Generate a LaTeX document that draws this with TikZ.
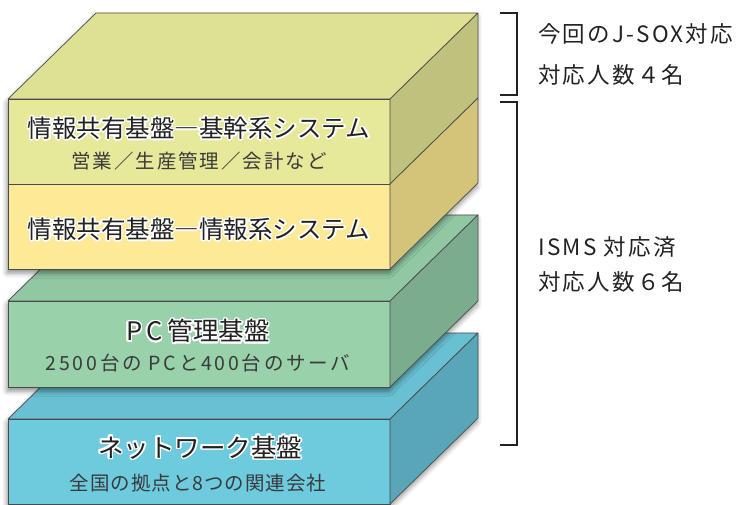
\documentclass[tikz,border=0pt]{standalone}
\usepackage{fontspec}
\setmainfont{Noto Sans CJK JP}
\newfontfamily\subfont[LetterSpace=10]{Noto Sans CJK JP}
\newfontfamily\subfontb[LetterSpace=5]{Noto Sans CJK JP}
\newfontfamily\subfontc[LetterSpace=14]{Noto Sans CJK JP}
\newfontfamily\sidefont[LetterSpace=10]{Noto Sans CJK JP}
\usepackage{contour}
\contourlength{1.5pt}
\usetikzlibrary{shadows.blur}
\definecolor{ytop}{HTML}{DEE093}
\definecolor{yfront}{HTML}{E6E999}
\definecolor{yright}{HTML}{BEC27D}
\definecolor{lfront}{HTML}{FDE996}
\definecolor{lright}{HTML}{D4C47A}
\definecolor{gtop}{HTML}{91C8A3}
\definecolor{gfront}{HTML}{99D2AA}
\definecolor{gright}{HTML}{7CAC8E}
\definecolor{btop}{HTML}{68C0D2}
\definecolor{bfront}{HTML}{6ECBDE}
\definecolor{bright}{HTML}{58A6B8}
\definecolor{edge}{HTML}{4A4A4A}
\definecolor{ink}{HTML}{222222}
\definecolor{subink}{HTML}{3A3A3A}
\tikzset{
  face/.style={draw=edge, line width=0.7pt, line join=round},
  silhouette/.style={fill=white, blur shadow={shadow xshift=-1pt, shadow yshift=-4pt, shadow blur radius=5pt, shadow opacity=45}},
  title/.style={text=ink, inner sep=0pt, font=\fontsize{24.5}{26}\selectfont},
  subtitle/.style={text=subink, inner sep=0pt, font=\subfont\fontsize{19.5}{22}\selectfont},
  side/.style={text=ink, inner sep=0pt, anchor=west, font=\sidefont\fontsize{22.5}{24}\selectfont},
  bracket/.style={draw=ink, line width=1.3pt}
}
\begin{document}
\begin{tikzpicture}[x=1pt, y=-1pt]
\useasboundingbox (0,0) rectangle (747,505);
% ---- blue block
\fill[silhouette] (8,419) -- (96,333) -- (478,333) -- (478,418) -- (390,504) -- (8,504) -- cycle;
\path[face, fill=btop] (8,419) -- (96,333) -- (478,333) -- (390,419) -- cycle;
\path[face, fill=bfront] (8,419) rectangle (390,504);
\path[face, fill=bright] (390,419) -- (478,333) -- (478,418) -- (390,504) -- cycle;
% ---- green block
\fill[silhouette] (8,301) -- (96,215) -- (478,215) -- (478,301) -- (390,387) -- (8,387) -- cycle;
\path[face, fill=gtop] (8,301) -- (96,215) -- (478,215) -- (390,301) -- cycle;
\path[face, fill=gfront] (8,301) rectangle (390,387);
\path[face, fill=gright] (390,301) -- (478,215) -- (478,301) -- (390,387) -- cycle;
% ---- yellow block (two layers)
\fill[silhouette] (8,99) -- (96,13) -- (478,13) -- (478,183) -- (390,269) -- (8,269) -- cycle;
\path[face, fill=ytop] (8,99) -- (96,13) -- (478,13) -- (390,99) -- cycle;
\path[face, fill=yfront] (8,99) rectangle (390,184);
\path[face, fill=yright] (390,99) -- (478,13) -- (478,98) -- (390,184) -- cycle;
\path[face, fill=lfront] (8,184) rectangle (390,269);
\path[face, fill=lright] (390,184) -- (478,98) -- (478,183) -- (390,269) -- cycle;
% ---- texts
\node[title] (t1) at (199,129) {\contour{white}{情報共有基盤―基幹系システム}};
\node[subtitle] (s1) at (199,161) {営業／生産管理／会計など};
\node[title] (t2) at (199,230) {\contour{white}{情報共有基盤―情報系システム}};
\node[title, font=\fontsize{25.5}{27}\selectfont] (t3) at (198,332) {\contour{white}{P\kern4pt C\kern5pt 管理基盤}};
\node[subtitle, font=\subfontc\fontsize{19.5}{22}\selectfont] (s3) at (198,363) {2500台の PCと400台のサーバ};
\node[title, font=\fontsize{25.5}{27}\selectfont] (t4) at (200,448) {\contour{white}{ネットワーク基盤}};
\node[subtitle, font=\subfontb\fontsize{19.5}{22}\selectfont] (s4) at (198,483) {全国の拠点と8つの関連会社};
% ---- brackets
\coordinate (b1a) at (500,13);
\coordinate (b1b) at (500,95);
\coordinate (b2a) at (500,102);
\coordinate (b2b) at (500,445);
\draw[bracket] (b1a) -- (517,13) -- (517,95) -- (b1b);
\draw[bracket] (b2a) -- (517,102) -- (517,445) -- (b2b);
\node[side] (r1) at (538,34) {今回のJ-SOX対応};
\node[side] (r2) at (538,75) {対応人数４名};
\node[side] (r3) at (538,247) {ISMS 対応済};
\node[side] (r4) at (538,282) {対応人数６名};
\end{tikzpicture}
\end{document}
